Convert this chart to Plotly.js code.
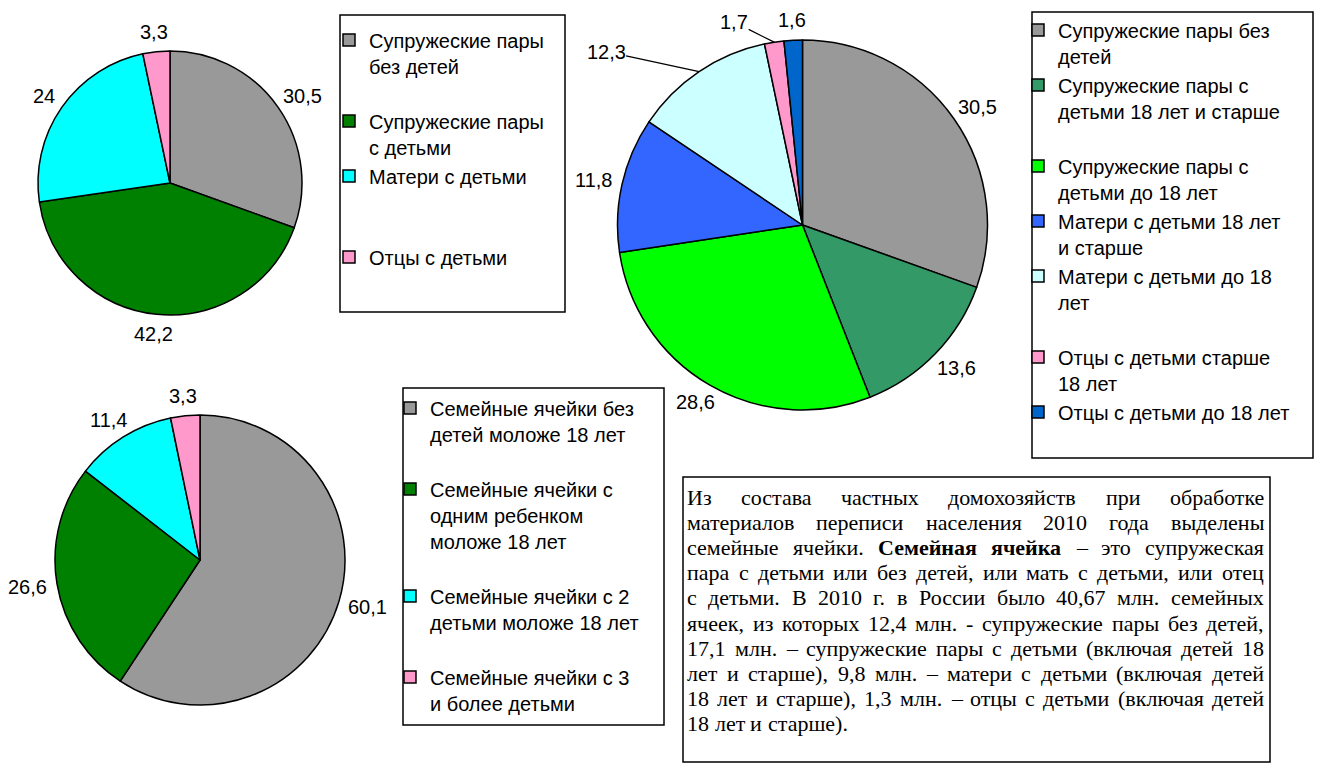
<!DOCTYPE html>
<html>
<head>
<meta charset="utf-8">
<script src="https://cdn.plot.ly/plotly-3.0.1.min.js"></script>
<style>
html, body { margin: 0; padding: 0; background: #ffffff; }
#chart { width: 1331px; height: 765px; }
</style>
</head>
<body>
<div id="chart"></div>
<script>
// ---------------- DATA ----------------
const pie1Labels = ["Супружеские пары<br>без детей", "Супружеские пары<br>с детьми", "Матери с детьми", "Отцы с детьми"];
const pie1Values = [30.5, 42.2, 24, 3.3];

const pie2Labels = ["Супружеские пары без<br>детей", "Супружеские пары с<br>детьми 18 лет и старше", "Супружеские пары с<br>детьми до 18 лет",
                    "Матери с детьми 18 лет<br>и старше", "Матери с детьми до 18<br>лет", "Отцы с детьми старше<br>18 лет", "Отцы с детьми до 18 лет"];
const pie2Values = [30.5, 13.6, 28.6, 11.8, 12.3, 1.7, 1.6];

const pie3Labels = ["Семейные ячейки без<br>детей моложе 18 лет", "Семейные ячейки с<br>одним ребенком<br>моложе 18 лет",
                    "Семейные ячейки с 2<br>детьми моложе 18 лет", "Семейные ячейки с 3<br>и более детьми"];
const pie3Values = [60.1, 26.6, 11.4, 3.3];

const noteLines = [
  "Из состава частных домохозяйств при обработке",
  "материалов переписи населения 2010 года выделены",
  "семейные ячейки. <b>Семейная ячейка</b> – это супружеская",
  "пара с детьми или без детей, или мать с детьми, или отец",
  "с детьми. В 2010 г. в России было 40,67 млн. семейных",
  "ячеек, из которых 12,4 млн. - супружеские пары без детей,",
  "17,1 млн. – супружеские пары с детьми (включая детей 18",
  "лет и старше), 9,8 млн. – матери с детьми (включая детей",
  "18 лет и старше), 1,3 млн. – отцы с детьми (включая детей",
  "18 лет и старше)."
];

// ---------------- STYLES / LAYOUT ----------------
const pie1Colors = ["#999999", "#008000", "#00ffff", "#ff99cc"];
const pie2Colors = ["#999999", "#339966", "#00ff00", "#3366ff", "#ccffff", "#ff99cc", "#0066cc"];
const pie3Colors = ["#999999", "#008000", "#00ffff", "#ff99cc"];

// extra blank lines in legend entries (spacing like the original)
const pad1 = [1, 0, 2, 0];
const pad2 = [0, 1, 0, 0, 1, 0, 0];
const pad3 = [1, 1, 1, 0];

// data labels moved away with a leader line: slice index -> [dx, dy] px from slice edge
const leader2 = { 4: [-93, -20], 5: [-40, -20] };

const W = 1331, H = 765;
const SANS = "'Liberation Sans', Arial, sans-serif";
const SERIF = "'Liberation Serif', 'Times New Roman', serif";
const FS = 20;
const NFS = 22;

function px(x) { return x / W; }
function py(y) { return 1 - y / H; }
function dom(cx, cy, r) { return { x: [px(cx - r), px(cx + r)], y: [py(cy + r), py(cy - r)] }; }
function padLabels(labels, pads) { return labels.map((l, i) => l + "<br>\u00a0".repeat(pads[i])); }

const canvas = document.createElement("canvas");
const ctx = canvas.getContext("2d");
function measure(text, font) { ctx.font = font; return ctx.measureText(text).width; }
function fmt(v) { return String(v).replace(".", ","); }

const pies = [
  { labels: pie1Labels, values: pie1Values, colors: pie1Colors, pads: pad1, cx: 170, cy: 183, r: 132, legend: "legend", leaders: {} },
  { labels: pie2Labels, values: pie2Values, colors: pie2Colors, pads: pad2, cx: 802.5, cy: 225, r: 185, legend: "legend2", leaders: leader2 },
  { labels: pie3Labels, values: pie3Values, colors: pie3Colors, pads: pad3, cx: 200, cy: 560, r: 145, legend: "legend3", leaders: {} }
];

const traces = pies.map(p => ({
  type: "pie",
  labels: padLabels(p.labels, p.pads),
  values: p.values,
  sort: false,
  direction: "clockwise",
  rotation: 0,
  domain: dom(p.cx, p.cy, p.r),
  marker: { colors: p.colors, line: { color: "#000000", width: 1.5 } },
  textinfo: "none",
  hoverinfo: "none",
  legend: p.legend,
  showlegend: true
}));

// value labels placed outside each slice at its middle angle (clockwise from 12 o'clock)
const annotations = [];
pies.forEach(p => {
  const total = p.values.reduce((s, v) => s + v, 0);
  let cum = 0;
  p.values.forEach((v, i) => {
    const theta = 2 * Math.PI * (cum + v / 2) / total;
    cum += v;
    const dx = Math.sin(theta), dy = -Math.cos(theta);
    const txt = fmt(v);
    const hw = measure(txt, FS + "px 'Liberation Sans'") / 2, hh = FS / 2;
    const font = { family: SANS, size: FS, color: "#000000" };
    if (p.leaders[i]) {
      const ex = p.cx + dx * p.r, ey = p.cy + dy * p.r;
      annotations.push({
        xref: "paper", yref: "paper", x: px(ex), y: py(ey),
        ax: p.leaders[i][0], ay: p.leaders[i][1],
        showarrow: true, arrowhead: 0, arrowwidth: 1.3, arrowcolor: "#000000", standoff: 0,
        text: txt, font: font, borderpad: 0
      });
    } else {
      const gap = 10;
      const lx = p.cx + dx * (p.r + gap) + dx * hw;
      const ly = p.cy + dy * (p.r + gap) + dy * hh;
      annotations.push({
        xref: "paper", yref: "paper", x: px(lx), y: py(ly),
        xanchor: "center", yanchor: "middle", showarrow: false,
        text: txt, font: font, borderpad: 0
      });
    }
  });
});

function legendAt(xLeft, yTop) {
  return {
    x: px(xLeft), y: py(yTop), xanchor: "left", yanchor: "top",
    bgcolor: "rgba(0,0,0,0)", borderwidth: 0, valign: "top",
    font: { family: SANS, size: FS, color: "#000000" },
    itemclick: false, itemdoubleclick: false
  };
}

function box(x0, y0, x1, y1) {
  return {
    type: "rect", xref: "paper", yref: "paper",
    x0: px(x0), x1: px(x1), y0: py(y1), y1: py(y0),
    line: { color: "#000000", width: 1.5 }, fillcolor: "rgba(0,0,0,0)"
  };
}

// justified note text built from word measurements
const noteLeft = 686, noteRight = 1263, noteTop = 497, notePitch = 25.2;
let inBold = false;
noteLines.forEach((line, li) => {
  const words = [];
  line.split(" ").forEach(tok => {
    let bold = inBold;
    let w = tok;
    if (w.startsWith("<b>")) { bold = true; inBold = true; w = w.slice(3); }
    if (w.endsWith("</b>")) { w = w.slice(0, -4); inBold = false; }
    words.push({ w: w, bold: bold, width: measure(w, (bold ? "bold " : "") + NFS + "px 'Liberation Serif'") });
  });
  const total = words.reduce((s, o) => s + o.width, 0);
  const last = li === noteLines.length - 1;
  const space = measure(" ", NFS + "px 'Liberation Serif'");
  const gap = last ? space : Math.max(2, (noteRight - noteLeft - total) / (words.length - 1));
  let x = noteLeft;
  const y = noteTop + li * notePitch;
  words.forEach(o => {
    annotations.push({
      xref: "paper", yref: "paper", x: px(x), y: py(y),
      xanchor: "left", yanchor: "middle", showarrow: false, borderpad: 0,
      text: o.bold ? "<b>" + o.w + "</b>" : o.w,
      font: { family: SERIF, size: NFS, color: "#000000" }
    });
    x += o.width + gap;
  });
});

const layout = {
  width: W, height: H,
  margin: { l: 0, r: 0, t: 0, b: 0, pad: 0, autoexpand: false },
  paper_bgcolor: "#ffffff", plot_bgcolor: "#ffffff",
  separators: ", ",
  font: { family: SANS, size: FS, color: "#000000" },
  showlegend: true,
  legend: legendAt(329, 20.5),
  legend2: legendAt(1018, 10.5),
  legend3: legendAt(390, 388.5),
  shapes: [
    box(340, 15, 565, 312),
    box(1032, 12, 1313, 458),
    box(403, 388, 664, 725),
    box(683, 477, 1270, 762)
  ],
  annotations: annotations
};

Plotly.newPlot("chart", traces, layout, { staticPlot: true, displayModeBar: false });
</script>
</body>
</html>
